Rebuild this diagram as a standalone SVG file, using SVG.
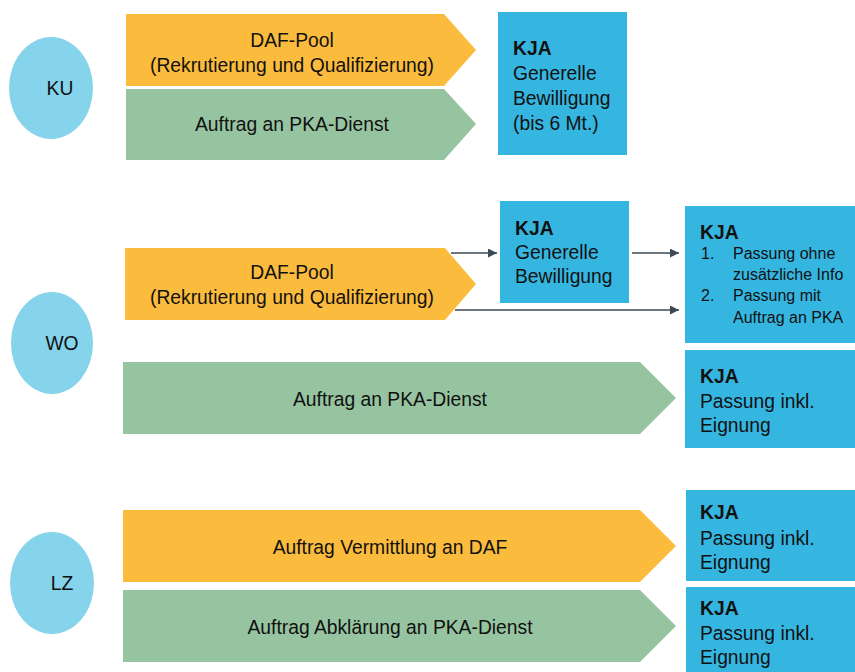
<svg xmlns="http://www.w3.org/2000/svg" width="855" height="672" viewBox="0 0 855 672">
<defs>
<style>
.t{font-family:"Liberation Sans",Arial,sans-serif;font-size:19.3px;fill:#111;}
.c{text-anchor:middle;}
.b{font-weight:bold;}
.s{font-size:16px;}
.circ{fill:#86D3EC;}
.org{fill:#FBBC3D;}
.grn{fill:#97C4A0;}
.kja{fill:#35B6E1;}
.conn{stroke:#3C4A56;stroke-width:1.5;fill:none;}
</style>
<marker id="ah" viewBox="0 0 10 10" refX="10" refY="5" markerWidth="10" markerHeight="9" orient="auto" markerUnits="userSpaceOnUse">
<path d="M0,0 L10,5 L0,10 Z" fill="#3C4A56"/>
</marker>
</defs>
<rect width="855" height="672" fill="#fff"/>

<g id="ku">
<ellipse class="circ" cx="51" cy="88" rx="42" ry="51"/>
<text class="t c" x="60" y="95">KU</text>
</g>
<g id="ku-daf">
<polygon class="org" points="126,14 444,14 476,50 444,86 126,86"/>
<text class="t c" x="292" y="47">DAF-Pool</text>
<text class="t c" x="292" y="72">(Rekrutierung und Qualifizierung)</text>
</g>
<g id="ku-pka">
<polygon class="grn" points="126,89 444,89 476,124 444,160 126,160"/>
<text class="t c" x="292" y="131">Auftrag an PKA-Dienst</text>
</g>
<g id="ku-kja">
<rect class="kja" x="498" y="12" width="129" height="143"/>
<text class="t b" x="513" y="55">KJA</text>
<text class="t" x="513" y="80">Generelle</text>
<text class="t" x="513" y="105">Bewilligung</text>
<text class="t" x="513" y="130">(bis 6 Mt.)</text>
</g>

<g id="wo">
<ellipse class="circ" cx="52" cy="343" rx="41" ry="51"/>
<text class="t c" x="62" y="350">WO</text>
</g>
<g id="wo-daf">
<polygon class="org" points="125,248 445,248 476,284 445,320 125,320"/>
<text class="t c" x="292" y="279">DAF-Pool</text>
<text class="t c" x="292" y="304">(Rekrutierung und Qualifizierung)</text>
</g>
<g id="wo-pka">
<polygon class="grn" points="123,362 640,362 676,398 640,434 123,434"/>
<text class="t c" x="390" y="406">Auftrag an PKA-Dienst</text>
</g>
<g id="wo-kja1">
<rect class="kja" x="500" y="201" width="129" height="102"/>
<text class="t b" x="515" y="235">KJA</text>
<text class="t" x="515" y="259">Generelle</text>
<text class="t" x="515" y="283">Bewilligung</text>
</g>
<g id="wo-kja2">
<rect class="kja" x="685" y="206" width="170" height="137"/>
<text class="t b" x="700" y="239">KJA</text>
<text class="t s" x="701" y="259">1.</text>
<text class="t s" x="733" y="259">Passung ohne</text>
<text class="t s" x="733" y="280">zusätzliche Info</text>
<text class="t s" x="701" y="301">2.</text>
<text class="t s" x="733" y="301">Passung mit</text>
<text class="t s" x="733" y="323">Auftrag an PKA</text>
</g>
<g id="wo-kja3">
<rect class="kja" x="685" y="350" width="170" height="98"/>
<text class="t b" x="700" y="383">KJA</text>
<text class="t" x="700" y="408">Passung inkl.</text>
<text class="t" x="700" y="432">Eignung</text>
</g>

<g id="lz">
<ellipse class="circ" cx="52" cy="583" rx="42" ry="51"/>
<text class="t c" x="62" y="590">LZ</text>
</g>
<g id="lz-daf">
<polygon class="org" points="123,510 640,510 676,546 640,582 123,582"/>
<text class="t c" x="390" y="554">Auftrag Vermittlung an DAF</text>
</g>
<g id="lz-pka">
<polygon class="grn" points="123,590 640,590 676,626 640,662 123,662"/>
<text class="t c" x="390" y="634">Auftrag Abklärung an PKA-Dienst</text>
</g>
<g id="lz-kja1">
<rect class="kja" x="686" y="490" width="169" height="91"/>
<text class="t b" x="700" y="519">KJA</text>
<text class="t" x="700" y="545">Passung inkl.</text>
<text class="t" x="700" y="569">Eignung</text>
</g>
<g id="lz-kja2">
<rect class="kja" x="686" y="587" width="169" height="85"/>
<text class="t b" x="700" y="615">KJA</text>
<text class="t" x="700" y="640">Passung inkl.</text>
<text class="t" x="700" y="664">Eignung</text>
</g>

<g id="connectors">
<line class="conn" x1="451" y1="253" x2="497" y2="253" marker-end="url(#ah)"/>
<line class="conn" x1="632" y1="253" x2="679" y2="253" marker-end="url(#ah)"/>
<line class="conn" x1="455" y1="310" x2="679" y2="310" marker-end="url(#ah)"/>
</g>
</svg>
